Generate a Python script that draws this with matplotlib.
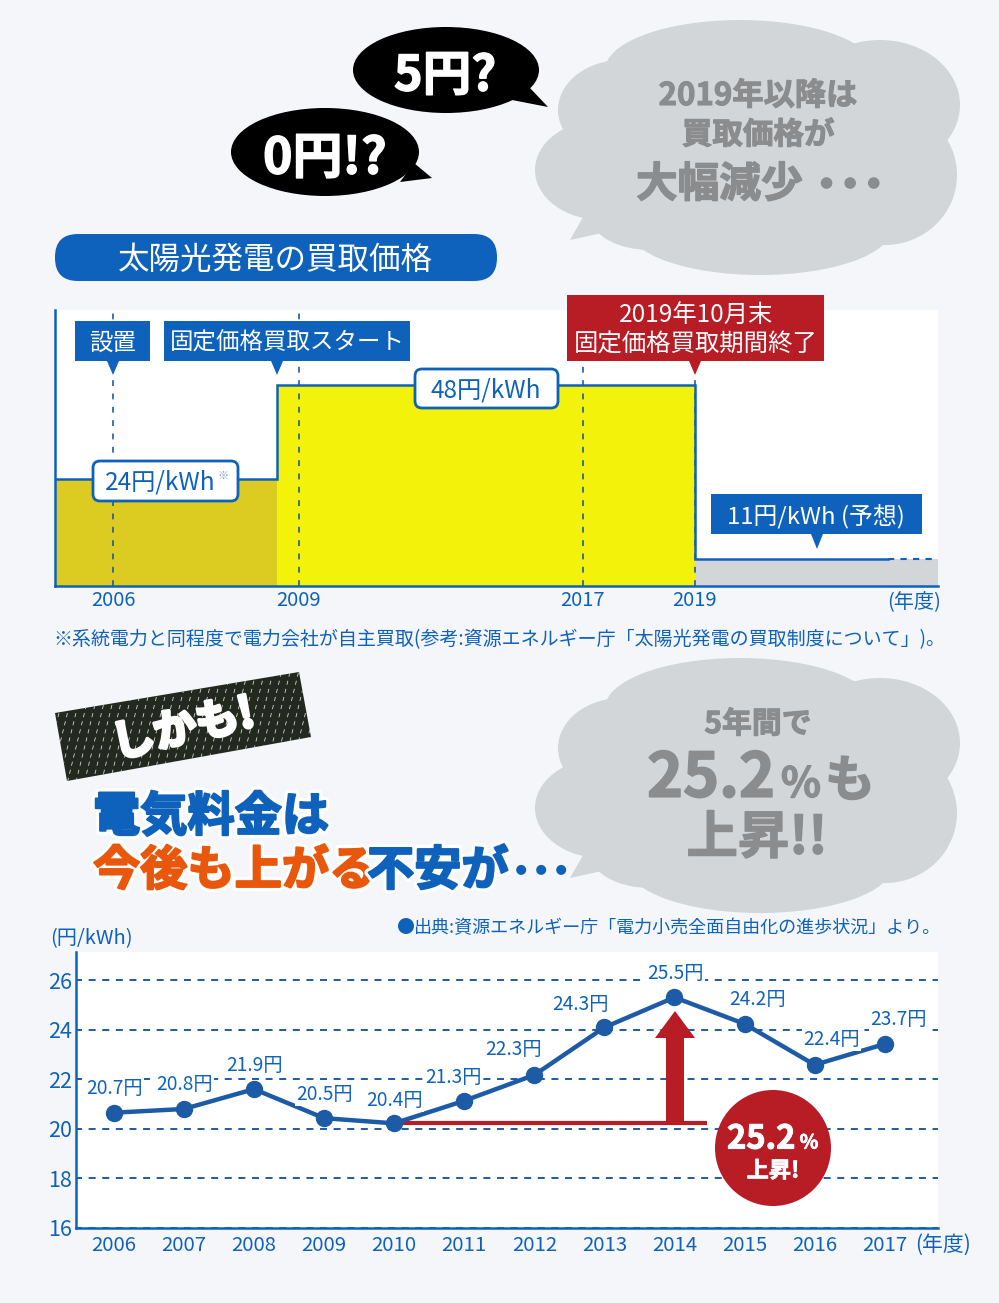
import matplotlib
matplotlib.use("Agg")
import matplotlib.pyplot as plt
import matplotlib.patheffects as pe
from matplotlib.patches import Ellipse, Polygon, FancyBboxPatch, Rectangle, Circle
import numpy as np

plt.rcParams['font.family'] = ['Noto Sans CJK JP', 'DejaVu Sans']

BG = '#f4f6fa'
BLUE = '#0f62bb'
LINE_BLUE = '#1d5ba6'
RED = '#b81c25'
GRAY_TEXT = '#8a8c8e'
CLOUD = '#d3d6d8'
ORANGE = '#e9570c'

# top chart: purchase price
price_start = [2005, 2008.645, 2019]
price_end = [2008.645, 2019, 2025]
price_values = [24, 48, 11]
price_colors = ['#dccb21', '#f2f20a', CLOUD]
price_ticks = [2006, 2009, 2017, 2019]
forecast_solid_end = 2023.77

# the top chart is schematic, neither axis is linear
year_knots = [2005, 2006, 2009, 2017, 2019, 2025]
year_pixels = [0, 58, 244, 528, 640, 883]
price_knots = [0, 11, 24, 48, 70]
price_pixels = [0, 27.3, 107.3, 201, 276]

# bottom chart: electricity rate
rate_years = [2006, 2007, 2008, 2009, 2010, 2011, 2012, 2013, 2014, 2015, 2016, 2017]
rate_points = [20.65, 20.8, 21.6, 20.43, 20.22, 21.13, 22.17, 24.09, 25.3, 24.23, 22.58, 23.42]
rate_labels = ['20.7円', '20.8円', '21.9円', '20.5円', '20.4円', '21.3円',
               '22.3円', '24.3円', '25.5円', '24.2円', '22.4円', '23.7円']
label_dx = [1, 1, 0, 0, 0, -11, -21, -24, 1, 13, 17, 14]
label_dy = [24, 24, 24, 24, 23, 23, 25, 23, 24, 24, 25, 24]
rate_ticks = [16, 18, 20, 22, 24, 26]

W, H = 999, 1303
fig = plt.figure(figsize=(W / 100, H / 100), dpi=100, facecolor=BG)


def px_axes(left, top, right, bottom):
    return fig.add_axes([left / W, 1 - bottom / H, (right - left) / W, (bottom - top) / H])


def blue_spines(ax):
    for side in ['top', 'right']:
        ax.spines[side].set_visible(False)
    for side in ['left', 'bottom']:
        ax.spines[side].set_color(BLUE)
        ax.spines[side].set_linewidth(1.8)
        ax.spines[side].set_zorder(6)
    ax.set_facecolor('white')


# price chart
ax1 = px_axes(55, 310, 938, 586)
ax1.set_xscale('function', functions=(lambda v: np.interp(v, year_knots, year_pixels),
                                      lambda v: np.interp(v, year_pixels, year_knots)))
ax1.set_yscale('function', functions=(lambda v: np.interp(v, price_knots, price_pixels),
                                      lambda v: np.interp(v, price_pixels, price_knots)))
ax1.set_xlim(2005, 2025)
ax1.set_ylim(0, 70)
for s, e, v, c in zip(price_start, price_end, price_values, price_colors):
    ax1.fill_between([s, e], 0, v, color=c, lw=0, zorder=1)
for y in price_ticks:
    ax1.plot([y, y], [0, 70], color=LINE_BLUE, lw=1.2, ls=(0, (3.5, 4.5)), zorder=2)
ax1.plot([price_start[0], price_end[0], price_end[0], price_end[1], price_end[1], forecast_solid_end],
         [price_values[0], price_values[0], price_values[1], price_values[1], price_values[2], price_values[2]],
         color=BLUE, lw=1.8, solid_joinstyle='miter', zorder=3)
ax1.plot([forecast_solid_end, price_end[2]], [price_values[2], price_values[2]],
         color=BLUE, lw=1.5, ls=(0, (3, 3)), zorder=3)
blue_spines(ax1)
ax1.set_yticks([])
ax1.set_xticks(price_ticks)
ax1.set_xticklabels([str(y) for y in price_ticks])
ax1.minorticks_off()
ax1.tick_params(axis='x', length=0, pad=3, labelsize=14.5, labelcolor=BLUE)

# rate chart
ax2 = px_axes(76, 952, 938, 1228)
ax2.set_xlim(2005.46, 2017.76)
ax2.set_ylim(16, 27.13)
ax2.set_yticks(rate_ticks)
ax2.set_xticks(rate_years)
ax2.tick_params(axis='x', length=0, labelsize=14.7, labelcolor=BLUE, pad=5)
ax2.tick_params(axis='y', length=0, labelsize=15.5, labelcolor=BLUE, pad=3)
ax2.yaxis.grid(True, color=LINE_BLUE, lw=1.4, ls=(0.5, (3.6, 3.4)), zorder=1)
ax2.set_axisbelow(True)
blue_spines(ax2)
ax2.plot(rate_years, rate_points, color=LINE_BLUE, lw=3.2, marker='o', ms=11.5, zorder=4)
ax2.plot([rate_years[4], 2014.47], [rate_points[4], rate_points[4]], color=RED, lw=3, zorder=3,
         solid_capstyle='butt')
for x, y, lab, dx, dy in zip(rate_years, rate_points, rate_labels, label_dx, label_dy):
    ax2.annotate(lab, (x, y), xytext=(dx, dy), textcoords='offset pixels', ha='center', va='center',
                 fontsize=13.8, color=BLUE, zorder=5,
                 bbox=dict(fc='white', ec='none', pad=0.8))

# overlay in pixel coordinates for the poster decoration
ov = fig.add_axes([0, 0, 1, 1], zorder=5)
ov.set_xlim(0, W)
ov.set_ylim(H, 0)
ov.axis('off')
ov.patch.set_alpha(0)


def cloud(dy):
    blobs = [(740, 70, 135, 50), (880, 105, 80, 65), (622, 110, 64, 50), (602, 170, 67, 50),
             (760, 228, 132, 47), (885, 175, 72, 70), (745, 150, 170, 100), (650, 215, 60, 35)]
    for cx, cy, rx, ry in blobs:
        ov.add_patch(Ellipse((cx, cy + dy), rx * 2, ry * 2, fc=CLOUD, ec='none'))
    ov.add_patch(Polygon([(570, 240 + dy), (590, 205 + dy), (625, 228 + dy)], fc=CLOUD, ec='none'))


def tag(x0, y0, x1, y1, tip, color):
    ov.add_patch(Rectangle((x0, y0), x1 - x0, y1 - y0, fc=color, ec='none'))
    ov.add_patch(Polygon([(tip[0] - 6, y1), (tip[0] + 6, y1), tip], fc=color, ec='none'))


def pill(x0, y0, x1, y1):
    r = 7
    ov.add_patch(FancyBboxPatch((x0 + r, y0 + r), x1 - x0 - 2 * r, y1 - y0 - 2 * r,
                                boxstyle='round,pad=%d,rounding_size=%d' % (r, r),
                                fc='white', ec=BLUE, lw=2))


def bold(x, y, s, size, color, ha='center', stroke=0.0, stroke_color=None, rot=0):
    t = ov.text(x, y, s, fontsize=size, color=color, ha=ha, va='center', fontweight='bold',
                rotation=rot, rotation_mode='anchor')
    if stroke:
        t.set_path_effects([pe.withStroke(linewidth=stroke, foreground=stroke_color or color)])
    return t


# speech bubbles
ov.add_patch(Ellipse((446, 70), 186, 86, fc='black', ec='none'))
ov.add_patch(Polygon([(530, 88), (548, 107), (512, 100)], fc='black', ec='none'))
ov.add_patch(Ellipse((325, 152), 188, 88, fc='black', ec='none'))
ov.add_patch(Polygon([(414, 163), (432, 178), (400, 182)], fc='black', ec='none'))
bold(445, 76, '5円?', 35, 'white', stroke=1)
bold(325, 159, '0円!?', 36, 'white', stroke=1)

cloud(0)
bold(758, 96, '2019年以降は', 22.5, GRAY_TEXT, stroke=0.8)
bold(758, 135, '買取価格が', 22, GRAY_TEXT, stroke=0.8)
bold(636, 185, '大幅減少', 30, GRAY_TEXT, ha='left', stroke=1)
bold(850, 185, '・・・', 17, GRAY_TEXT, stroke=4)

# title pill
ov.add_patch(FancyBboxPatch((78, 257), 396, 1, boxstyle='round,pad=23,rounding_size=23', fc=BLUE, ec='none'))
ov.text(275, 260, '太陽光発電の買取価格', fontsize=22.7, color='white', ha='center', va='center')

# top chart labels
tag(75, 321, 150, 361, (113, 375), BLUE)
ov.text(113, 343, '設置', fontsize=16.9, color='white', ha='center', va='center')
tag(163.5, 321, 410, 361, (277, 375), BLUE)
ov.text(287, 343, '固定価格買取スタート', fontsize=16.9, color='white', ha='center', va='center')
tag(567, 295, 824, 361, (695, 375), RED)
ov.text(696, 316, '2019年10月末', fontsize=17.5, color='white', ha='center', va='center')
ov.text(696, 345, '固定価格買取期間終了', fontsize=17.6, color='white', ha='center', va='center')
tag(711, 494, 922, 534, (817, 549), BLUE)
ov.text(816, 516, '11円/kWh (予想)', fontsize=17.2, color='white', ha='center', va='center')
pill(93, 461, 238, 501)
ov.text(105, 483, '24円/kWh', fontsize=17.5, color=BLUE, ha='left', va='center')
ov.text(223, 476, '※', fontsize=8, color='#7f9cc0', ha='center', va='center')
pill(415, 369, 558, 408)
ov.text(486, 391, '48円/kWh', fontsize=17.5, color=BLUE, ha='center', va='center')
ov.text(941, 602, '(年度)', fontsize=14.5, color=BLUE, ha='right', va='center')
ov.text(499, 640, '※系統電力と同程度で電力会社が自主買取(参考:資源エネルギー庁「太陽光発電の買取制度について」)。',
        fontsize=13.7, color=BLUE, ha='center', va='center')

# しかも! strip
corners = [(55, 713), (299, 672), (311, 737), (67, 781)]
strip = Polygon(corners, fc='#23291f', ec='none')
ov.add_patch(strip)
for x in np.arange(40, 330, 8.5):
    ln, = ov.plot([x, x + 32], [790, 660], color='white', lw=0.6, ls=(0, (5, 5)), alpha=0.8)
    ln.set_clip_path(strip)
bold(183, 729, 'しかも!', 31, 'white', stroke=2.5, rot=13)

# headline
for s, x, y, c in [('電気料金は', 93, 817, BLUE), ('今後も上がる', 93, 871, ORANGE), ('不安が', 367, 871, BLUE)]:
    t = ov.text(x, y, s, fontsize=34, color=c, ha='left', va='center', fontweight='bold')
    t.set_path_effects([pe.withStroke(linewidth=6, foreground='white'),
                        pe.withStroke(linewidth=1.5, foreground=c)])
bold(541, 871, '・・・', 14.4, BLUE, stroke=3.5)

cloud(638)
bold(758, 724, '5年間で', 21.5, GRAY_TEXT, stroke=0.8)
bold(647, 779, '25.2', 44, GRAY_TEXT, ha='left', stroke=1.2)
bold(801, 785, '%', 30, GRAY_TEXT, stroke=0.8)
bold(850, 782, 'も', 36, GRAY_TEXT, stroke=1)
bold(757, 838, '上昇!!', 37, GRAY_TEXT, stroke=1)

# bottom chart annotation
ov.add_patch(Polygon([(666, 1122), (684, 1122), (684, 1038), (695, 1038), (675, 1011), (655, 1038), (666, 1038)],
                     fc=RED, ec='none'))
ov.add_patch(Circle((773, 1148), 58, fc=RED, ec='none'))
bold(727, 1139, '25.2', 23.5, 'white', ha='left', stroke=0.8)
bold(809, 1143, '%', 14, 'white', stroke=0.5)
bold(773, 1171, '上昇!', 16, 'white', stroke=0.5)

ov.text(91, 939, '(円/kWh)', fontsize=14.5, color=BLUE, ha='center', va='center')
ov.text(943, 1245, '(年度)', fontsize=15, color=BLUE, ha='center', va='center')
ov.add_patch(Circle((406, 926), 8, fc=BLUE, ec='none'))
ov.text(941, 928, '出典:資源エネルギー庁「電力小売全面自由化の進歩状況」より。', fontsize=13, color=BLUE,
        ha='right', va='center')

fig.savefig('out.png', dpi=100, facecolor=BG)
